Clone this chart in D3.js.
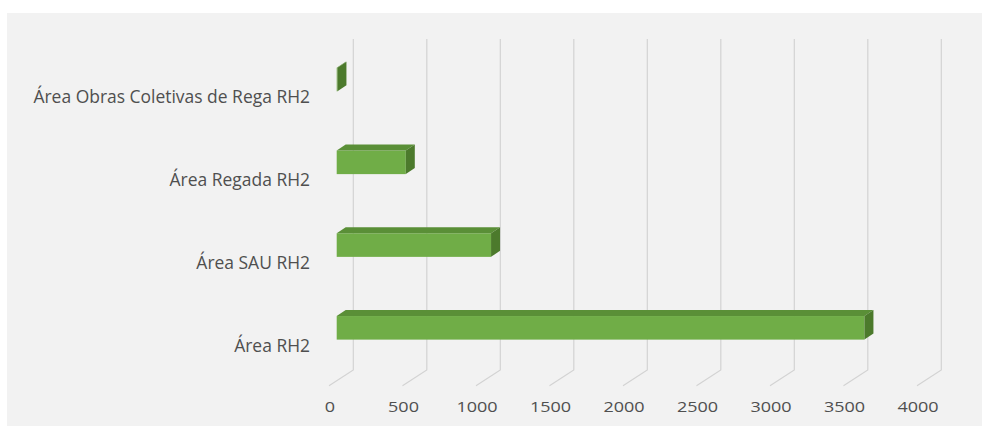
<!DOCTYPE html>
<html>
<head>
<meta charset="utf-8">
<script src="https://cdn.jsdelivr.net/npm/d3@7"></script>
<style>
  html, body { margin: 0; padding: 0; background: #ffffff; }
  svg { display: block; }
  text { font-family: "Open Sans", "Liberation Sans", sans-serif; fill: #4f4f4f; }
</style>
</head>
<body>
<svg id="chart" width="982" height="426"></svg>
<script>
// Categories, top to bottom
const categories = [
  "Área Obras Coletivas de Rega RH2",
  "Área Regada RH2",
  "Área SAU RH2",
  "Área RH2"
];
// Area values (same order as categories)
const values = [5, 470, 1050, 3590];
// Horizontal axis ticks
const tickValues = [0, 500, 1000, 1500, 2000, 2500, 3000, 3500, 4000];

const svg = d3.select("#chart");

// Chart area background
svg.append("rect")
  .attr("x", 7).attr("y", 13)
  .attr("width", 975).attr("height", 413)
  .attr("fill", "#f2f2f2");

// Oblique 3D projection: back wall, bar plane and front floor edge
const wallTop = 39, wallBottom = 370;
const backX0 = 353.3;          // value 0 on the back wall
const floorDx = -24.3, floorDy = 15.7; // back wall -> front floor edge
const barX0 = 336.7;           // value 0 on the bars' front faces
const depthDx = 9, depthDy = -6;  // bar thickness in depth

const x = d3.scaleLinear().domain([0, 4000]).range([0, 588]);

const y = d3.scaleBand()
  .domain(categories)
  .range([38.2, 369.2])
  .paddingInner(0).paddingOuter(0);
const barH = y.bandwidth() * 0.285;

// Gridlines: up the back wall, then along the floor toward the viewer
const grid = svg.append("g")
  .attr("fill", "none")
  .attr("stroke", "#d3d3d3")
  .attr("stroke-width", 1.2);
grid.selectAll("path")
  .data(tickValues)
  .join("path")
  .attr("d", d => {
    const bx = backX0 + x(d);
    return `M${bx},${wallTop}L${bx},${wallBottom}L${bx + floorDx},${wallBottom + floorDy}`;
  });

// Bars
const bars = svg.append("g").selectAll("g")
  .data(categories.map((c, i) => ({ cat: c, value: values[i] })))
  .join("g");

bars.each(function (d) {
  const g = d3.select(this);
  const cy = y(d.cat) + y.bandwidth() / 2;
  const top = cy - barH / 2, bot = cy + barH / 2;
  const x0 = barX0, x1 = barX0 + x(d.value);
  // front face
  g.append("rect")
    .attr("x", x0).attr("y", top)
    .attr("width", x1 - x0).attr("height", bot - top)
    .attr("fill", "#70ad47");
  // top face
  g.append("path")
    .attr("d", `M${x0},${top}L${x0 + depthDx},${top + depthDy}L${x1 + depthDx},${top + depthDy}L${x1},${top}Z`)
    .attr("fill", "#5a8f37");
  // end face
  g.append("path")
    .attr("d", `M${x1},${top}L${x1 + depthDx},${top + depthDy}L${x1 + depthDx},${bot + depthDy}L${x1},${bot}Z`)
    .attr("fill", "#4c7a2c");
});

// Category labels
svg.append("g").selectAll("text")
  .data(categories)
  .join("text")
  .attr("transform", d => `translate(310,${y(d) + y.bandwidth() / 2 + 23.8}) scale(0.97,1)`)
  .attr("text-anchor", "end")
  .attr("font-size", 18)
  .text(d => d);

// Value axis labels along the front floor edge
svg.append("g").selectAll("text")
  .data(tickValues)
  .join("text")
  .attr("transform", d => `translate(${backX0 + floorDx + x(d) + 1},412.3) scale(1.2,1)`)
  .attr("text-anchor", "middle")
  .attr("font-size", 15)
  .text(d => d);
</script>
</body>
</html>
